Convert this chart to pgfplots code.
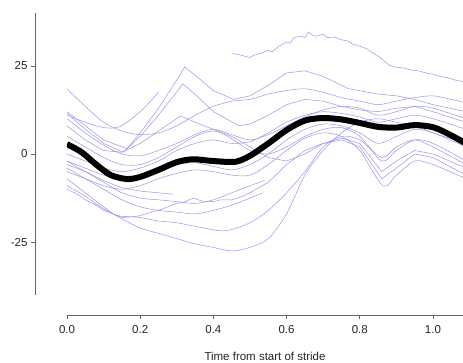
\documentclass[border=0pt]{standalone}
\usepackage{pgfplots}
\pgfplotsset{compat=1.18}
\usepackage{fontspec}
\setmainfont{Liberation Sans}
\definecolor{lb}{RGB}{150,150,235}
\begin{document}
\begin{tikzpicture}
\begin{axis}[
  scale only axis, width=396pt, height=282pt,
  xmin=0, xmax=1.082, ymin=-40, ymax=40,
  axis x line*=bottom, axis y line*=left,
  axis x line shift=20pt, axis y line shift=32pt,
  axis line style={black!60, line width=0.6pt},
  tick style={black!60, line width=0.6pt},
  tick align=outside, major tick length=4pt,
  xtick={0,0.2,0.4,0.6,0.8,1.0},
  xticklabels={0.0,0.2,0.4,0.6,0.8,1.0},
  ytick={-25,0,25}, yticklabels={-25,0,25},
  ticklabel style={font=\fontsize{11.5}{13}\selectfont, text=black!85},
  xticklabel style={yshift=-3pt},
  xlabel={Time from start of stride},
  xlabel style={at={(axis description cs:0.5,0)}, anchor=base, yshift=-66pt, font=\fontsize{11.5}{13}\selectfont, text=black!85},
  curve/.style={lb, line width=0.5pt, mark=none},
]
% C1 top jittery
\addplot[curve] coordinates {(0.45,28.5)(0.47,28.2)(0.49,27.6)(0.5,27.4)(0.51,28.0)(0.53,28.6)(0.55,29.4)(0.56,29.0)(0.58,30.6)(0.6,31.8)(0.61,31.4)(0.62,33.0)(0.64,33.4)(0.65,33.0)(0.66,34.6)(0.67,33.8)(0.68,33.4)(0.7,34.0)(0.71,33.0)(0.73,33.2)(0.75,32.4)(0.77,32.0)(0.78,31.2)(0.8,30.6)(0.82,29.8)(0.83,29.0)(0.85,27.8)(0.86,27.0)(0.88,25.2)(0.9,24.6)(0.92,24.4)(0.94,23.8)(0.96,23.6)(0.98,23.0)(1.0,22.6)(1.02,22.0)(1.04,21.6)(1.06,21.0)(1.09,20.4)};
% C2 sharp peak
\addplot[curve] coordinates {(0,12)(0.05,8)(0.1,4)(0.164,1.5)(0.2,6)(0.25,13)(0.3,21)(0.322,24.7)(0.36,21.5)(0.4,18)(0.455,15.5)(0.5,16.5)(0.55,19.5)(0.6,23)(0.65,23.6)(0.7,22)(0.77,18.5)(0.85,17)(0.9,16.5)(0.95,15.5)(1.0,14)(1.09,12)};
% C3 second peak
\addplot[curve] coordinates {(0,11.5)(0.05,7)(0.1,3)(0.153,0.5)(0.2,5)(0.25,11)(0.317,19.9)(0.36,16)(0.4,12)(0.47,8)(0.5,8.5)(0.55,11)(0.6,14)(0.65,15.5)(0.7,15)(0.75,13.5)(0.8,12.5)(0.85,12)(0.9,13)(0.95,13.5)(1.0,12)(1.09,9)};
% C4
\addplot[curve, smooth] coordinates {(0,18.5)(0.05,13.5)(0.1,9)(0.15,6.5)(0.2,5.5)(0.25,6)(0.3,8)(0.35,11)(0.4,13.5)(0.45,15)(0.5,15.5)(0.55,17)(0.6,18)(0.65,18.5)(0.7,17.5)(0.75,16)(0.8,15)(0.85,14)(0.9,15)(0.95,16)(1.0,16.5)(1.05,15.5)(1.09,14.5)};
% C5 short
\addplot[curve, smooth] coordinates {(0,11)(0.05,9)(0.1,7.5)(0.145,7.8)(0.2,12)(0.25,17.5)};
% D1 lowest
\addplot[curve, smooth] coordinates {(0,-7)(0.05,-11)(0.1,-15)(0.136,-17.6)(0.2,-21)(0.25,-22.5)(0.3,-24)(0.35,-25.5)(0.4,-26.5)(0.45,-27.5)(0.5,-26.5)(0.55,-24)(0.6,-17)(0.65,-6)(0.7,1)(0.75,6)(0.8,9)(0.85,10)(0.9,9)(0.95,8)(1.0,6)(1.09,3)};
% D2
\addplot[curve, smooth] coordinates {(0,-9)(0.05,-12)(0.1,-15.5)(0.14,-17.5)(0.2,-18)(0.25,-19)(0.3,-19.5)(0.35,-20.5)(0.43,-21.8)(0.5,-19.5)(0.55,-16)(0.6,-11)(0.65,-5)(0.7,2)(0.75,5)(0.8,4)(0.86,-1)(0.9,2)(0.95,4)(1.0,2)(1.09,-3)};
% D3 short
\addplot[curve, smooth] coordinates {(0,-4)(0.05,-7)(0.1,-10)(0.15,-13)(0.2,-15)(0.25,-16)(0.3,-16.5)(0.35,-17)(0.4,-16)(0.45,-14.5)(0.5,-12.5)(0.535,-11)};
% D4 short
\addplot[curve, smooth] coordinates {(0,-2)(0.05,-5)(0.1,-8)(0.15,-11)(0.2,-12.5)(0.25,-13)(0.3,-13.5)(0.35,-14)(0.4,-13)(0.45,-11)(0.5,-9)(0.54,-7.5)};
% D5 short
\addplot[curve, smooth] coordinates {(0,-3)(0.05,-5)(0.1,-7.5)(0.15,-9.5)(0.2,-10.5)(0.25,-11)(0.29,-11.4)};
% D6 jitter
\addplot[curve] coordinates {(0,-10)(0.03,-11.5)(0.05,-13)(0.08,-14.5)(0.1,-16)(0.13,-17.2)(0.15,-18)(0.18,-17.8)(0.2,-17.5)(0.23,-16.5)(0.25,-16)(0.28,-14.8)(0.3,-14)(0.32,-13.6)(0.345,-12.5)(0.37,-13.4)(0.4,-13.5)(0.42,-13.0)(0.45,-13)(0.48,-12)(0.5,-11)(0.55,-8)(0.6,-3)(0.65,1)(0.7,3)(0.75,4)(0.8,2)(0.86,-7)(0.9,-4)(0.95,0)(1.0,-1)(1.09,-6)};
% M1
\addplot[curve, smooth] coordinates {(0,0)(0.05,-2)(0.1,-4)(0.15,-5)(0.2,-4)(0.25,-2)(0.3,1)(0.35,3)(0.4,4)(0.45,3)(0.5,3.5)(0.55,6)(0.6,9)(0.65,11)(0.7,12)(0.75,11.5)(0.8,10.5)(0.85,9)(0.9,10)(0.95,11)(1.0,10)(1.09,7)};
% M2
\addplot[curve, smooth] coordinates {(0,5)(0.05,2)(0.1,-1)(0.15,-3)(0.2,-3)(0.25,-1)(0.3,2)(0.35,5)(0.4,6.5)(0.44,5)(0.5,1)(0.55,0)(0.6,2)(0.65,5)(0.7,7)(0.75,7.5)(0.8,5)(0.86,-2)(0.9,1)(0.95,4)(1.0,3)(1.09,-2)};
% M3
\addplot[curve, smooth] coordinates {(0,-5)(0.05,-7)(0.1,-9)(0.15,-10)(0.2,-9)(0.25,-7)(0.3,-5.5)(0.35,-4.5)(0.4,-5)(0.45,-6)(0.5,-6)(0.55,-3)(0.6,1)(0.65,4.5)(0.7,6)(0.75,5)(0.8,1)(0.863,-9)(0.9,-6)(0.95,-2)(1.0,-3)(1.09,-7)};
% M4
\addplot[curve, smooth] coordinates {(0,10)(0.05,6)(0.1,2.5)(0.15,0)(0.2,-0.5)(0.25,1)(0.3,3)(0.35,5.5)(0.4,7)(0.45,5.5)(0.5,4)(0.55,5.5)(0.6,8)(0.65,10.5)(0.7,12.5)(0.75,13.5)(0.8,13)(0.85,11)(0.9,12)(0.95,13.5)(1.0,13)(1.09,10)};
% M5
\addplot[curve] coordinates {(0,8)(0.05,4)(0.1,1)(0.15,0.5)(0.2,3)(0.25,6.5)(0.31,10.8)(0.35,9)(0.4,7)(0.45,5)(0.5,2)(0.55,-1)(0.6,-2)(0.65,0)(0.7,3)(0.75,4.5)(0.8,3)(0.86,-5)(0.9,-2)(0.95,1)(1.0,0)(1.09,-4)};
% M6
\addplot[curve, smooth] coordinates {(0,-2)(0.05,-4)(0.1,-6)(0.15,-7)(0.2,-6)(0.25,-4.5)(0.3,-3)(0.35,-2.5)(0.4,-3.5)(0.45,-4.5)(0.5,-3)(0.55,0)(0.6,4)(0.65,7)(0.7,8.5)(0.75,8)(0.8,6)(0.85,3)(0.9,5)(0.95,7)(1.0,6)(1.09,2)};
% mean
\addplot[black, line width=6pt, smooth, mark=none] coordinates {(0,2.8)(0.04,0.5)(0.08,-3)(0.12,-6)(0.164,-7.1)(0.2,-6.5)(0.25,-4.5)(0.3,-2.3)(0.344,-1.5)(0.4,-2)(0.46,-2.2)(0.5,-0.5)(0.55,3)(0.6,6.8)(0.65,9.5)(0.7,10.2)(0.75,9.8)(0.8,8.8)(0.85,7.7)(0.9,7.5)(0.95,8.2)(1.0,7.6)(1.04,5.8)(1.09,3.0)};
\coordinate (O) at (rel axis cs:0,0);
\coordinate (TR) at (rel axis cs:1,1);
\end{axis}
\pgfresetboundingbox
\path ([xshift=-67pt,yshift=-68pt]O) rectangle ([yshift=13pt]TR);
\end{tikzpicture}
\end{document}
